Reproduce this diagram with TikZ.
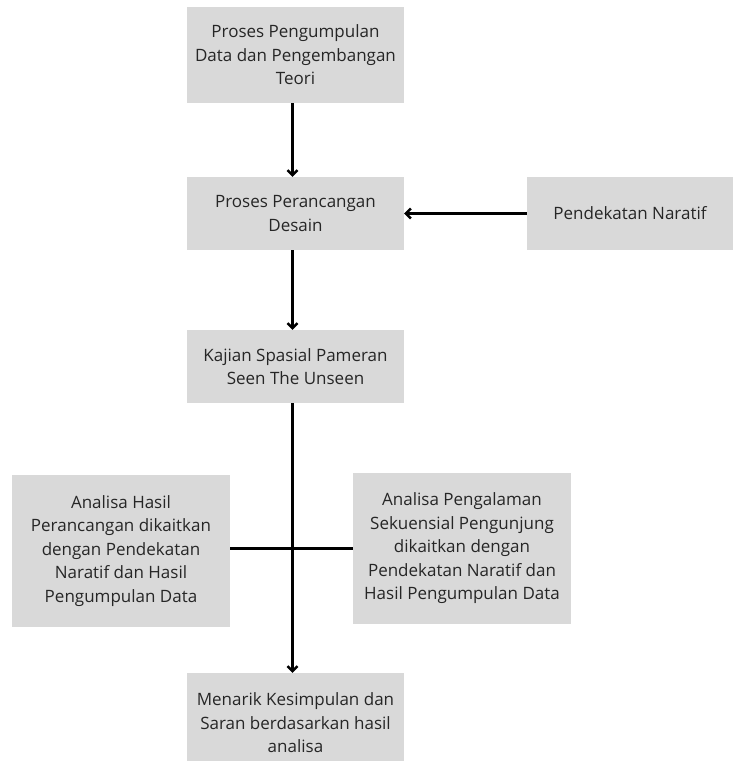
\documentclass[tikz,border=0pt]{standalone}
\usepackage{fontspec}
\setmainfont{Open Sans}
\usetikzlibrary{arrows.meta}
\definecolor{boxgray}{HTML}{D9D9D9}
\definecolor{txt}{HTML}{262626}
\tikzset{
  boxtext/.style={align=center, text=txt, inner sep=0pt,
    font=\fontsize{17}{23.5}\selectfont},
  box/.style={boxtext, fill=boxgray, draw=none},
  conn/.style={line width=2.4pt, draw=black},
  arr/.style={conn, -{Straight Barb[length=5pt,width=10pt,line width=2.4pt]}}
}
\begin{document}
\begin{tikzpicture}[x=1pt,y=-1pt]
\useasboundingbox (0,0) rectangle (732,763);
\node[box, minimum width=217pt, minimum height=96pt] (b1) at (295.5,55)
  {Proses Pengumpulan\\Data dan Pengembangan\\Teori};
\node[box, minimum width=217pt, minimum height=73pt] (b2) at (295.5,213.5)
  {Proses Perancangan\\Desain};
\node[box, minimum width=206pt, minimum height=73pt] (pn) at (630,213.5)
  {Pendekatan Naratif};
\node[box, minimum width=217pt, minimum height=73pt] (b3) at (295.5,366.5)
  {Kajian Spasial Pameran\\Seen The Unseen};
\node[box, minimum width=218pt, minimum height=152pt] (lb) at (121,551)
  {Analisa Hasil\\Perancangan dikaitkan\\dengan Pendekatan\\Naratif dan Hasil\\Pengumpulan Data};
\node[box, minimum width=218pt, minimum height=151pt] (rb) at (462,548.5)
  {Analisa Pengalaman\\Sekuensial Pengunjung\\dikaitkan dengan\\Pendekatan Naratif dan\\Hasil Pengumpulan Data};
\node[box, minimum width=217pt, minimum height=88pt,
  label={[boxtext, yshift=-6pt]center:Menarik Kesimpulan dan\\Saran berdasarkan hasil\\analisa}]
  (b5) at (295.5,717) {};
\draw[arr] ([xshift=-3pt]b1.south) -- ([xshift=-3pt]b2.north);
\draw[arr] (pn.west) -- (b2.east);
\draw[arr] ([xshift=-3pt]b2.south) -- ([xshift=-3pt]b3.north);
\draw[conn] (lb.east |- rb.west) -- (rb.west);
\draw[arr] ([xshift=-3pt]b3.south) -- ([xshift=-3pt]b5.north);
\end{tikzpicture}
\end{document}
